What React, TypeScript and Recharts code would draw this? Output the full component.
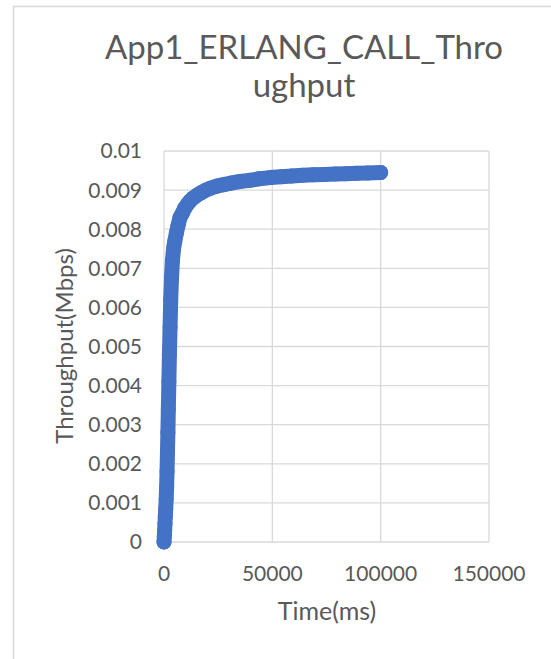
import React from 'react';
import { ScatterChart, Scatter, XAxis, YAxis, CartesianGrid } from 'recharts';

const timeMs = [
  0, 150, 300, 450, 600, 800, 1000, 1200, 1400, 1600, 1800, 2000, 2250, 2500, 2800, 3100, 3500, 3900,
  4400, 5000, 5700, 6500, 7400, 8400, 9500, 10700, 12000, 13500, 15200, 17000, 19000, 21500, 24300,
  27500, 31000, 35000, 39500, 44000, 49000, 54000, 59000, 64000, 69000, 74000, 79000, 84000, 89000,
  94000, 100000,
];
const throughputMbps = [
  0, 0.00015, 0.0003, 0.00048, 0.00065, 0.00085, 0.0011, 0.0014, 0.0018, 0.0023, 0.0028, 0.0034,
  0.0041, 0.0048, 0.0055, 0.0062, 0.0068, 0.0072, 0.0075, 0.0077, 0.0079, 0.0081, 0.0083, 0.0084,
  0.00853, 0.00863, 0.00872, 0.0088, 0.00887, 0.00893, 0.00899, 0.00905, 0.0091, 0.00914, 0.00918,
  0.00922, 0.00925, 0.00929, 0.00932, 0.00934, 0.00936, 0.00938, 0.00939, 0.0094, 0.00941, 0.00942,
  0.00943, 0.00944, 0.00945,
];
const xTicks = [0, 50000, 100000, 150000];
const yTicks = [0, 0.001, 0.002, 0.003, 0.004, 0.005, 0.006, 0.007, 0.008, 0.009, 0.01];
const titleLines = ['App1_ERLANG_CALL_Thro', 'ughput'];
const xTitle = 'Time(ms)';
const yTitle = 'Throughput(Mbps)';

const data = timeMs.map((t, i) => ({ t, y: throughputMbps[i] }));

const FONT = 'Lato, "Open Sans", sans-serif';
const TEXT = '#595959';
const GRID = '#d9d9d9';
const BLUE = '#4472C4';

const Dot = (props: any) => <circle cx={props.cx} cy={props.cy} r={7.5} fill={BLUE} />;

export default function App() {
  return (
    <div style={{ position: 'absolute', left: 0, top: 0, width: 551, height: 659, background: '#fff', fontFamily: FONT }}>
      <ScatterChart width={551} height={659} margin={{ top: 151, right: 62, bottom: 0, left: 0 }}>
        <CartesianGrid stroke={GRID} strokeWidth={1.3} />
        <XAxis
          type="number"
          dataKey="t"
          domain={[0, 150000]}
          ticks={xTicks}
          height={117}
          axisLine={false}
          tickLine={false}
          tickSize={0}
          tickMargin={24}
          tick={{ fill: TEXT, fontSize: 21, fontFamily: FONT }}
          interval={0}
        />
        <YAxis
          type="number"
          dataKey="y"
          domain={[0, 0.01]}
          ticks={yTicks}
          width={164}
          axisLine={false}
          tickLine={false}
          tickSize={0}
          tickMargin={22}
          tick={{ fill: TEXT, fontSize: 21, fontFamily: FONT }}
          interval={0}
        />
        <Scatter
          data={data}
          fill={BLUE}
          line={{ stroke: BLUE, strokeWidth: 15, strokeLinejoin: 'round', strokeLinecap: 'round' }}
          lineType="joint"
          shape={Dot}
          isAnimationActive={false}
        />
      </ScatterChart>
      <svg width={551} height={659} style={{ position: 'absolute', left: 0, top: 0, pointerEvents: 'none' }}>
        <path d="M13.5 659 V6.5 H551" fill="none" stroke={GRID} strokeWidth={1.5} />
        <text x={304} y={59} textAnchor="middle" fontSize={33} fill={TEXT} fontFamily={FONT}>{titleLines[0]}</text>
        <text x={304} y={97} textAnchor="middle" fontSize={33} fill={TEXT} fontFamily={FONT}>{titleLines[1]}</text>
        <text x={327} y={620} textAnchor="middle" fontSize={25} fill={TEXT} fontFamily={FONT}>{xTitle}</text>
        <text transform="translate(73,346) rotate(-90)" textAnchor="middle" fontSize={24} fill={TEXT} fontFamily={FONT}>{yTitle}</text>
      </svg>
    </div>
  );
}
